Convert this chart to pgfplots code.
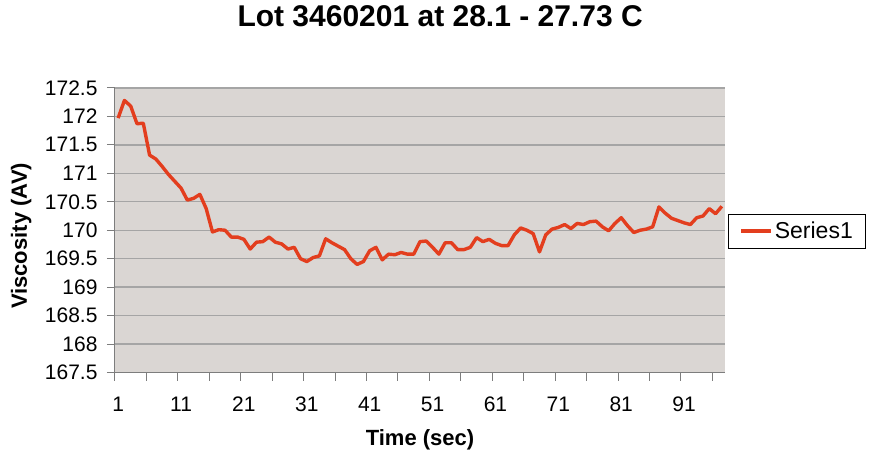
\documentclass[border=0pt]{standalone}
\usepackage{fontspec}
\setmainfont{Liberation Sans}
\usepackage{pgfplots}
\pgfplotsset{compat=1.18}
\definecolor{plotbg}{RGB}{218,214,211}
\definecolor{gridc}{RGB}{165,165,165}
\definecolor{serc}{RGB}{227,62,30}
\definecolor{axc}{RGB}{125,125,125}
\begin{document}
\begin{tikzpicture}[x=1bp,y=1bp]
\path[use as bounding box] (-115,-87.4) rectangle (763,372.6);
\begin{axis}[at={(0,0)}, anchor=south west, scale only axis,
  width=610bp, height=284.7bp,
  xmin=0.5, xmax=97.5, ymin=167.5, ymax=172.5,
  axis background/.style={fill=plotbg},
  axis x line*=bottom, axis y line*=left,
  axis line style={axc, line width=1bp},
  tick align=outside, major tick length=8bp,
  tick style={axc, line width=1bp},
  ytick={167.5,168,168.5,169,169.5,170,170.5,171,171.5,172,172.5},
  /pgf/number format/assume math mode=true,
  /pgf/number format/.cd, fixed, precision=1, /pgfplots/.cd,
  ymajorgrids, major grid style={gridc, line width=1.4bp},
  xtick={0.5,5.5,10.5,15.5,20.5,25.5,30.5,35.5,40.5,45.5,50.5,55.5,60.5,65.5,70.5,75.5,80.5,85.5,90.5,95.5},
  xticklabels={1,{},11,{},21,{},31,{},41,{},51,{},61,{},71,{},81,{},91,{}},
  xticklabel style={xshift=3.15bp, yshift=-13bp, font=\fontsize{21bp}{25bp}\selectfont},
  yticklabel style={xshift=-6bp, font=\fontsize{21bp}{25bp}\selectfont},
  title={Lot 3460201 at 28.1 - 27.73 C},
  title style={at={(0.533,1)}, anchor=base, yshift=55bp, font=\bfseries\fontsize{30bp}{34bp}\selectfont},
  xlabel={Time (sec)},
  xlabel style={at={(0.5,0)}, anchor=base, yshift=-73bp, font=\bfseries\fontsize{22bp}{26bp}\selectfont},
  ylabel={Viscosity (AV)},
  ylabel style={at={(0,0.48)}, anchor=base, yshift=88bp, font=\bfseries\fontsize{22bp}{26bp}\selectfont},
  legend style={at={(1.005,0.497)}, anchor=west, draw=black, line width=0.8bp,
    font=\fontsize{23bp}{27bp}\selectfont, inner xsep=11bp, inner ysep=6bp, fill=white},
  legend image code/.code={\draw[#1] (0bp,0bp) -- (30bp,0bp);},
]
\addplot[serc, line width=3.4bp, line join=round] coordinates {
(1,171.97) (2,172.28) (3,172.18) (4,171.87) (5,171.88) (6,171.32) (7,171.25) (8,171.12) (9,170.98) (10,170.86)
(11,170.74) (12,170.53) (13,170.56) (14,170.63) (15,170.38) (16,169.97) (17,170.01) (18,170.0) (19,169.88) (20,169.88)
(21,169.84) (22,169.67) (23,169.79) (24,169.8) (25,169.88) (26,169.79) (27,169.76) (28,169.67) (29,169.7) (30,169.5)
(31,169.45) (32,169.52) (33,169.55) (34,169.85) (35,169.78) (36,169.72) (37,169.66) (38,169.5) (39,169.4) (40,169.45)
(41,169.64) (42,169.7) (43,169.48) (44,169.58) (45,169.57) (46,169.61) (47,169.58) (48,169.58) (49,169.8) (50,169.81)
(51,169.7) (52,169.58) (53,169.78) (54,169.78) (55,169.66) (56,169.66) (57,169.7) (58,169.87) (59,169.8) (60,169.84)
(61,169.77) (62,169.73) (63,169.73) (64,169.92) (65,170.04) (66,170.0) (67,169.94) (68,169.62) (69,169.92) (70,170.02)
(71,170.05) (72,170.1) (73,170.03) (74,170.12) (75,170.1) (76,170.15) (77,170.16) (78,170.06) (79,169.99) (80,170.12)
(81,170.22) (82,170.08) (83,169.96) (84,170.0) (85,170.02) (86,170.06) (87,170.41) (88,170.3) (89,170.21) (90,170.17)
(91,170.13) (92,170.1) (93,170.22) (94,170.25) (95,170.38) (96,170.29) (97,170.42)
};
\addlegendentry{Series1}
\end{axis}
\end{tikzpicture}
\end{document}
